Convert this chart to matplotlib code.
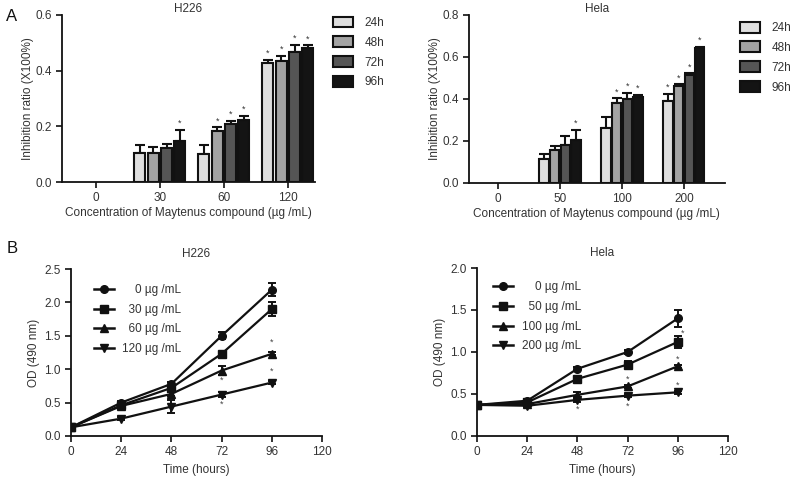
import matplotlib
matplotlib.use("Agg")
import matplotlib.pyplot as plt
from matplotlib.patches import Patch
from matplotlib.lines import Line2D
import numpy as np

plt.rcParams['font.family'] = ['Liberation Sans', 'DejaVu Sans']
TXT = '#333333'

# ---------------- Data ----------------
times_bar = ['24h', '48h', '72h', '96h']
bar_colors = ['#dedede', '#a3a3a3', '#555555', '#141414']

h226_conc = ['0', '30', '60', '120']
h226_vals = {
    '24h': [0.0, 0.103, 0.100, 0.426],
    '48h': [0.0, 0.103, 0.184, 0.435],
    '72h': [0.0, 0.121, 0.208, 0.468],
    '96h': [0.0, 0.147, 0.223, 0.480],
}
h226_err = {
    '24h': [0.0, 0.030, 0.033, 0.012],
    '48h': [0.0, 0.024, 0.012, 0.018],
    '72h': [0.0, 0.016, 0.012, 0.024],
    '96h': [0.0, 0.040, 0.014, 0.010],
}
h226_star = {
    '24h': [0, 0, 0, 1],
    '48h': [0, 0, 1, 1],
    '72h': [0, 0, 1, 1],
    '96h': [0, 1, 1, 1],
}

hela_conc = ['0', '50', '100', '200']
hela_vals = {
    '24h': [0.0, 0.114, 0.263, 0.388],
    '48h': [0.0, 0.155, 0.380, 0.463],
    '72h': [0.0, 0.182, 0.400, 0.515],
    '96h': [0.0, 0.203, 0.407, 0.640],
}
hela_err = {
    '24h': [0.0, 0.025, 0.049, 0.037],
    '48h': [0.0, 0.019, 0.022, 0.006],
    '72h': [0.0, 0.040, 0.028, 0.006],
    '96h': [0.0, 0.051, 0.013, 0.007],
}
hela_star = {
    '24h': [0, 0, 0, 1],
    '48h': [0, 0, 1, 1],
    '72h': [0, 0, 1, 1],
    '96h': [0, 1, 1, 1],
}

time_h = [0, 24, 48, 72, 96]
h226_lab = ['0 µg /mL', '30 µg /mL', '60 µg /mL', '120 µg /mL']
h226_od = [
    [0.13, 0.50, 0.78, 1.50, 2.19],
    [0.13, 0.46, 0.72, 1.23, 1.90],
    [0.13, 0.45, 0.63, 0.98, 1.23],
    [0.13, 0.26, 0.44, 0.62, 0.80],
]
h226_od_err = [
    [0.02, 0.02, 0.03, 0.05, 0.10],
    [0.02, 0.02, 0.03, 0.03, 0.10],
    [0.02, 0.02, 0.03, 0.07, 0.02],
    [0.02, 0.02, 0.10, 0.04, 0.02],
]
h226_stars_x = [72, 72, 96, 96]
h226_stars_y = [0.83, 0.47, 1.40, 0.97]

hela_lab = ['0 µg /mL', '50 µg /mL', '100 µg /mL', '200 µg /mL']
hela_od = [
    [0.37, 0.42, 0.80, 1.00, 1.40],
    [0.37, 0.40, 0.68, 0.85, 1.12],
    [0.37, 0.38, 0.49, 0.59, 0.83],
    [0.37, 0.36, 0.43, 0.48, 0.52],
]
hela_od_err = [
    [0.02, 0.02, 0.02, 0.02, 0.10],
    [0.02, 0.02, 0.02, 0.04, 0.07],
    [0.02, 0.02, 0.03, 0.02, 0.02],
    [0.02, 0.02, 0.02, 0.02, 0.02],
]
hela_stars_x = [48, 72, 72, 96, 96, 98.5]
hela_stars_y = [0.32, 0.68, 0.35, 0.91, 0.61, 1.22]

# ---------------- Figure ----------------
fig = plt.figure(figsize=(7.99, 4.79), dpi=100)

def style(ax):
    for s in ['top', 'right']:
        ax.spines[s].set_visible(False)
    for s in ['left', 'bottom']:
        ax.spines[s].set_linewidth(1.3)
        ax.spines[s].set_color('#111111')
    ax.tick_params(direction='out', width=1.2, length=4, labelsize=8.5,
                   colors='#111111', labelcolor=TXT)

def bar_panel(rect, title, cats, vals, errs, stars, ylim, yticks, step, width, xlim, leg_anchor):
    ax = fig.add_axes(rect)
    style(ax)
    x = np.arange(len(cats))
    for i, t in enumerate(times_bar):
        pos = x + (i - 1.5) * step
        v = np.array(vals[t])
        e = np.array(errs[t])
        m = v > 0
        ax.bar(pos[m], v[m], width=width, color=bar_colors[i], edgecolor='#111111',
               linewidth=1.5, zorder=2)
        ax.errorbar(pos[m], v[m], yerr=[np.zeros(m.sum()), e[m]], fmt='none',
                    ecolor='#111111', elinewidth=1.5, capsize=3.5, capthick=1.5, zorder=1)
        for p, vv, ee, s in zip(pos, v, e, stars[t]):
            if s:
                ax.text(p, vv + ee + ylim[1] * 0.012, '*', ha='center', va='bottom',
                        fontsize=6.5, color='#333333')
    ax.set_xticks(x)
    ax.set_xticklabels(cats)
    ax.set_xlim(*xlim)
    ax.set_ylim(*ylim)
    ax.set_yticks(yticks)
    ax.set_yticklabels([f'{v:.1f}' for v in yticks])
    ax.set_ylabel('Inhibition ratio (X100%)', fontsize=8.5, color=TXT, labelpad=1)
    ax.set_xlabel('Concentration of Maytenus compound (µg /mL)', fontsize=8.5, color=TXT, labelpad=2)
    ax.set_title(title, fontsize=8.5, color=TXT, pad=-3)
    handles = [Patch(facecolor=c, edgecolor='#111111', linewidth=1.5) for c in bar_colors]
    leg = ax.legend(handles, times_bar, loc='upper left', bbox_to_anchor=leg_anchor,
                    frameon=False, fontsize=8.5, handlelength=1.7, handleheight=1.05,
                    handletextpad=1.0, labelspacing=0.62, borderaxespad=0, borderpad=0)
    for t in leg.get_texts():
        t.set_color(TXT)
    return ax

bar_panel([0.0776, 0.620, 0.3164, 0.349], 'H226', h226_conc, h226_vals, h226_err, h226_star,
          (0, 0.6), [0.0, 0.2, 0.4, 0.6], 0.208, 0.172, (-0.53, 3.42), (1.071, 0.99))
bar_panel([0.587, 0.618, 0.320, 0.351], 'Hela', hela_conc, hela_vals, hela_err, hela_star,
          (0, 0.8), [0.0, 0.2, 0.4, 0.6, 0.8], 0.172, 0.150, (-0.47, 3.66), (1.059, 0.96))

markers = ['o', 's', '^', 'v']

def line_panel(rect, title, labels, ods, errs, sx, sy, ylim, yticks, leg_anchor):
    ax = fig.add_axes(rect)
    style(ax)
    for lab, od, er, mk in zip(labels, ods, errs, markers):
        ax.errorbar(time_h, od, yerr=er, color='#111111', marker=mk, markersize=5.5,
                    linewidth=1.6, elinewidth=1.4, capsize=3, capthick=1.4, label=lab)
    for xx, yy in zip(sx, sy):
        ax.text(xx, yy, '*', ha='center', va='center', fontsize=6.5, color='#444444')
    ax.set_xlim(0, 120)
    ax.set_xticks([0, 24, 48, 72, 96, 120])
    ax.set_ylim(*ylim)
    ax.set_yticks(yticks)
    ax.set_yticklabels([f'{v:.1f}' for v in yticks])
    ax.set_xlabel('Time (hours)', fontsize=8.5, color=TXT, labelpad=4)
    ax.set_ylabel('OD (490 nm)', fontsize=8.5, color=TXT, labelpad=3)
    ax.set_title(title, fontsize=8.5, color=TXT, pad=9)
    handles = [Line2D([0], [0], color='#111111', marker=m, markersize=5.5, linewidth=1.8)
               for m in markers]
    maxlen = max(len(l.split(' ')[0]) for l in labels)
    padded = ['  ' * (maxlen - len(l.split(' ')[0])) + l for l in labels]
    leg = ax.legend(handles, padded, loc='upper left', bbox_to_anchor=leg_anchor,
                    frameon=False, fontsize=8.5, handlelength=1.7, handletextpad=0.7,
                    labelspacing=0.65, borderaxespad=0, borderpad=0)
    for t in leg.get_texts():
        t.set_color(TXT)
    return ax

line_panel([0.0889, 0.0898, 0.3141, 0.3486], 'H226', h226_lab, h226_od, h226_od_err,
           h226_stars_x, h226_stars_y, (0, 2.5), [0.0, 0.5, 1.0, 1.5, 2.0, 2.5], (0.09, 0.91))
line_panel([0.597, 0.0898, 0.3141, 0.3507], 'Hela', hela_lab, hela_od, hela_od_err,
           hela_stars_x, hela_stars_y, (0, 2.0), [0.0, 0.5, 1.0, 1.5, 2.0], (0.065, 0.92))

fig.text(0.008, 0.965, 'A', fontsize=12, color='#111111', va='center')
fig.text(0.008, 0.482, 'B', fontsize=12, color='#111111', va='center')

fig.savefig('out.png', dpi=100)
